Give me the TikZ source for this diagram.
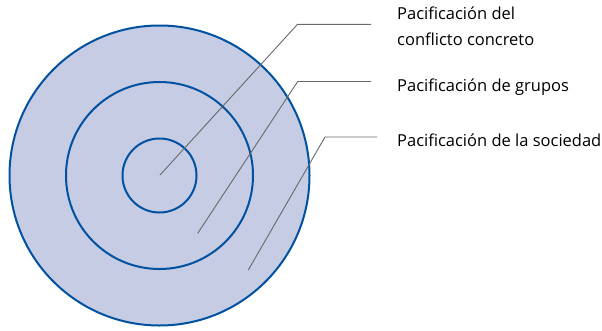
\documentclass[tikz,border=0pt]{standalone}
\usepackage{fontspec}
\setmainfont{Open Sans}
\definecolor{ringfill}{RGB}{197,204,228}
\definecolor{ringblue}{RGB}{0,82,160}
\definecolor{leadgray}{RGB}{105,105,105}
\begin{document}
\begin{tikzpicture}[x=1pt,y=-1pt,
  ring/.style={draw=ringblue, line width=2pt},
  leader/.style={draw=leadgray, line width=0.9pt},
  lab/.style={anchor=base west, inner sep=0, font=\fontsize{16.5}{26}\selectfont, align=left}]
  \useasboundingbox (0,0) rectangle (602,330);
  % rings
  \coordinate (c) at (159.5,175.5);
  \fill[ringfill] (c) circle (150pt);
  \foreach \r in {150,93.5,37}
    \draw[ring] (c) circle (\r pt);
  % labels
  \node[lab] (conflicto) at (397,45) {Pacificación del\\conflicto concreto};
  \node[lab] (grupos) at (397,91) {Pacificación de grupos};
  \node[lab] (sociedad) at (397,146) {Pacificación de la sociedad};
  % leaders
  \coordinate (p1) at (160,175);
  \coordinate (k1) at (297.5,24.3);
  \coordinate (p2) at (197.7,233.3);
  \coordinate (k2) at (297.7,81.5);
  \coordinate (p3) at (248.3,270);
  \coordinate (k3) at (325,137);
  \draw[leader] (p1) -- (k1) -- ([xshift=-26pt]conflicto.west |- k1);
  \draw[leader] (p2) -- (k2) -- ([xshift=-26pt]grupos.west |- k2);
  \draw[leader] (p3) -- (k3) -- ([xshift=-20pt]sociedad.west |- k3);
\end{tikzpicture}
\end{document}
